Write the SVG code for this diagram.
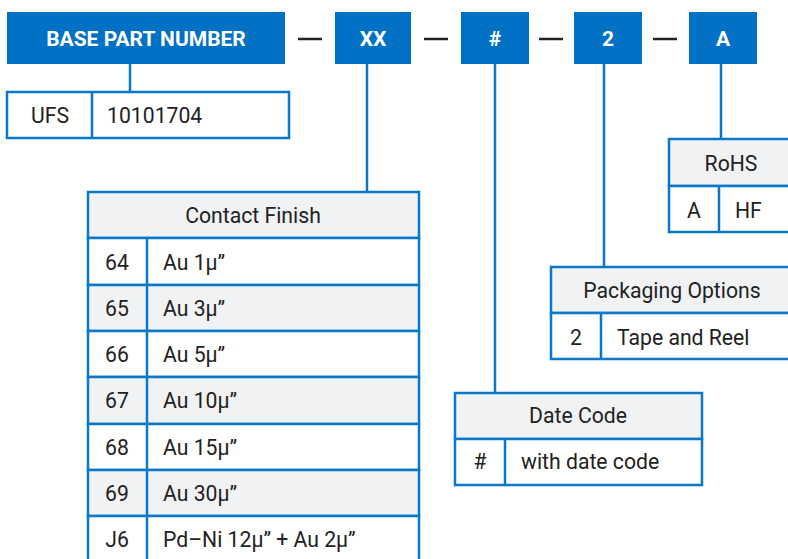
<svg xmlns="http://www.w3.org/2000/svg" width="788" height="559" viewBox="0 0 788 559">
<style>
.hdr{fill:#0071c5}
.ht{font-family:Roboto,"Liberation Sans",sans-serif;font-weight:bold;font-size:21px;fill:#fff;text-anchor:middle}
.dash{stroke:#222;stroke-width:2.5}
.cell{fill:#fff;stroke:#0a78c8;stroke-width:2.5}
.gray{fill:#f1f2f4;stroke:#0a78c8;stroke-width:2.5}
.ln{stroke:#0a78c8;stroke-width:2.5;fill:none}
.t{font-family:Roboto,"Liberation Sans",sans-serif;font-size:21.2px;fill:#222}
.c{text-anchor:middle}
</style>
<g id="connectors">
<line class="ln" x1="130" y1="64" x2="130" y2="92"/>
<line class="ln" x1="367" y1="64" x2="367" y2="192"/>
<line class="ln" x1="495" y1="64" x2="495" y2="393"/>
<line class="ln" x1="604" y1="64" x2="604" y2="267"/>
<line class="ln" x1="721" y1="64" x2="721" y2="139"/>
</g>
<g id="dashes">
<line class="dash" x1="298" y1="39" x2="322" y2="39"/>
<line class="dash" x1="424" y1="39" x2="448" y2="39"/>
<line class="dash" x1="539" y1="39" x2="563" y2="39"/>
<line class="dash" x1="653" y1="39" x2="677" y2="39"/>
</g>
<g id="base">
<rect class="hdr" x="7" y="12" width="278" height="52"/>
<text class="ht" x="146" y="46">BASE PART NUMBER</text>
</g>
<g id="xx">
<rect class="hdr" x="335" y="12" width="76" height="52"/>
<text class="ht" x="373" y="46">XX</text>
</g>
<g id="hash">
<rect class="hdr" x="461" y="12" width="68" height="52"/>
<text class="ht" x="495" y="46">#</text>
</g>
<g id="two">
<rect class="hdr" x="574" y="12" width="68" height="52"/>
<text class="ht" x="608" y="46">2</text>
</g>
<g id="a">
<rect class="hdr" x="689" y="12" width="68" height="52"/>
<text class="ht" x="723" y="46">A</text>
</g>
<g id="ufs-table">
<rect class="cell" x="7" y="92" width="282" height="46"/>
<line class="ln" x1="92" y1="92" x2="92" y2="138"/>
<text class="t c" x="50" y="123">UFS</text>
<text class="t" x="107" y="123">10101704</text>
</g>
<g id="contact-finish">
<rect class="gray" x="88" y="192" width="331" height="46"/>
<text class="t c" x="253" y="223">Contact Finish</text>
<rect class="cell" x="88" y="238" width="331" height="47"/>
<rect class="gray" x="88" y="285" width="331" height="46"/>
<rect class="cell" x="88" y="331" width="331" height="46"/>
<rect class="gray" x="88" y="377" width="331" height="47"/>
<rect class="cell" x="88" y="424" width="331" height="46"/>
<rect class="gray" x="88" y="470" width="331" height="46"/>
<rect class="cell" x="88" y="516" width="331" height="60"/>
<line class="ln" x1="147" y1="238" x2="147" y2="570"/>
<text class="t c" x="117" y="270">64</text><text class="t" x="163" y="270">Au 1µ”</text>
<text class="t c" x="117" y="316">65</text><text class="t" x="163" y="316">Au 3µ”</text>
<text class="t c" x="117" y="362">66</text><text class="t" x="163" y="362">Au 5µ”</text>
<text class="t c" x="117" y="408">67</text><text class="t" x="163" y="408">Au 10µ”</text>
<text class="t c" x="117" y="455">68</text><text class="t" x="163" y="455">Au 15µ”</text>
<text class="t c" x="117" y="501">69</text><text class="t" x="163" y="501">Au 30µ”</text>
<text class="t c" x="117" y="547">J6</text><text class="t" x="163" y="547">Pd–Ni 12µ” + Au 2µ”</text>
</g>
<g id="rohs">
<rect class="gray" x="669" y="139" width="140" height="47"/>
<rect class="cell" x="669" y="186" width="140" height="46"/>
<line class="ln" x1="719" y1="186" x2="719" y2="232"/>
<text class="t c" x="731" y="171">RoHS</text>
<text class="t c" x="694" y="218">A</text>
<text class="t" x="735" y="218">HF</text>
</g>
<g id="packaging">
<rect class="gray" x="551" y="267" width="260" height="46"/>
<rect class="cell" x="551" y="313" width="260" height="46"/>
<line class="ln" x1="601" y1="313" x2="601" y2="359"/>
<text class="t c" x="672" y="298">Packaging Options</text>
<text class="t c" x="576" y="345">2</text>
<text class="t" x="617" y="345">Tape and Reel</text>
</g>
<g id="date-code">
<rect class="gray" x="455" y="393" width="247" height="46"/>
<rect class="cell" x="455" y="439" width="247" height="46"/>
<line class="ln" x1="505" y1="439" x2="505" y2="485"/>
<text class="t c" x="578" y="423">Date Code</text>
<text class="t c" x="480" y="469">#</text>
<text class="t" x="521" y="469">with date code</text>
</g>
</svg>
